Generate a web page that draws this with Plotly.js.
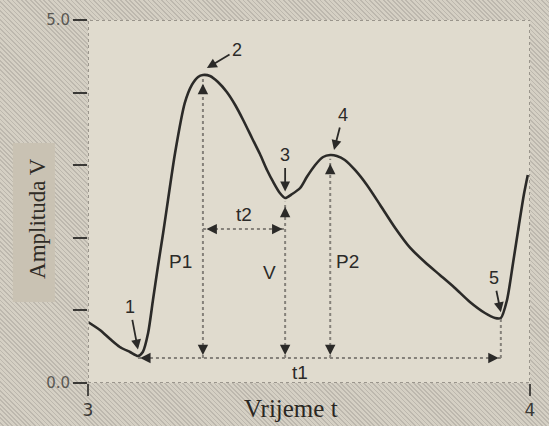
<!DOCTYPE html>
<html>
<head>
<meta charset="utf-8">
<script src="https://cdn.plot.ly/plotly-3.0.1.min.js"></script>
<style>
  html, body { margin: 0; padding: 0; }
  body {
    width: 549px; height: 426px; overflow: hidden;
    background: repeating-linear-gradient(45deg, #d5d0c4 0px, #d5d0c4 2px, #bdb8ae 2px, #bdb8ae 3.2px);
  }
  #chart { width: 549px; height: 426px; }
</style>
</head>
<body>
<div id="chart"></div>
<script>
// Pulse waveform (time in s, amplitude in V)
const time = [3.000, 3.027, 3.050, 3.072, 3.095, 3.113, 3.124, 3.136, 3.147, 3.158, 3.170, 3.181, 3.197, 3.219, 3.235, 3.249, 3.260, 3.276, 3.294, 3.314, 3.333, 3.351, 3.371, 3.389, 3.405, 3.419, 3.434, 3.446, 3.462, 3.480, 3.495, 3.514, 3.532, 3.548, 3.563, 3.581, 3.604, 3.631, 3.661, 3.695, 3.729, 3.762, 3.796, 3.830, 3.864, 3.898, 3.921, 3.934, 3.948, 3.962, 3.975, 3.986, 3.995];
const amplitude = [0.840, 0.730, 0.606, 0.496, 0.427, 0.372, 0.427, 0.689, 1.143, 1.598, 2.066, 2.521, 3.168, 3.857, 4.105, 4.215, 4.242, 4.229, 4.146, 4.008, 3.829, 3.623, 3.375, 3.154, 2.934, 2.769, 2.617, 2.548, 2.603, 2.686, 2.837, 3.003, 3.113, 3.140, 3.127, 3.072, 2.934, 2.727, 2.452, 2.135, 1.860, 1.667, 1.488, 1.309, 1.116, 0.964, 0.895, 0.895, 1.143, 1.667, 2.176, 2.590, 2.865];

// Characteristic points 1..5
const pointLabels = ["1", "2", "3", "4", "5"];
const pointT = [3.113, 3.260, 3.446, 3.548, 3.934];
const pointV = [0.372, 4.242, 2.548, 3.140, 0.895];
const baselineV = 0.345;   // level of the t1 interval
const t2Level = 2.12;      // level of the t2 interval

const yTickVals = [0, 1, 2, 3, 4, 5];
const yTickText = ["0.0", "", "", "", "", "5.0"];
const xTickVals = [3, 4];
const xTickText = ["3", "4"];

const dotGrey = "#85817a";
const ink = "#2b2a28";
const shapes = [];
const annotations = [];

// plot frame (dotted)
shapes.push({type: "rect", xref: "x", yref: "y", x0: 3, x1: 4, y0: 0, y1: 5,
  line: {color: "#9a958c", width: 2, dash: "dot"}, layer: "above"});
// plain box behind y title
shapes.push({type: "rect", xref: "paper", yref: "paper", x0: -0.170, x1: -0.075, y0: 0.223, y1: 0.661,
  fillcolor: "#c9c2b3", line: {width: 0}, layer: "below"});

// vertical lines from P1 (point 2), V (point 3), P2 (point 4), point 5 to baseline
[1, 2, 3, 4].forEach(i => {
  shapes.push({type: "line", xref: "x", yref: "y", x0: pointT[i], x1: pointT[i],
    y0: baselineV, y1: pointV[i] - (i === 4 ? 0 : 0.05), line: {color: dotGrey, width: 2, dash: "dot"}});
});
// t1 baseline
shapes.push({type: "line", xref: "x", yref: "y", x0: pointT[0], x1: pointT[4], y0: baselineV, y1: baselineV,
  line: {color: dotGrey, width: 2, dash: "dot"}});
// t2
shapes.push({type: "line", xref: "x", yref: "y", x0: pointT[1], x1: pointT[2], y0: t2Level, y1: t2Level,
  line: {color: dotGrey, width: 2, dash: "dot"}});

function head(x, y, ax, ay) {
  annotations.push({x: x, y: y, xref: "x", yref: "y", ax: ax, ay: ay, text: "",
    showarrow: true, arrowhead: 2, arrowsize: 1.3, arrowwidth: 1.6, arrowcolor: ink});
}
// arrowheads on vertical lines
[1, 2, 3].forEach(i => {
  head(pointT[i], pointV[i] - 0.12, 0, 9);
  head(pointT[i], baselineV + 0.04, 0, -9);
});
// t1 ends
head(pointT[0] + 0.005, baselineV, 10, 0);
head(pointT[4] - 0.005, baselineV, -10, 0);
// t2 ends
head(pointT[1] + 0.008, t2Level, 10, 0);
head(pointT[2] - 0.006, t2Level, -10, 0);

// numbered point labels with arrows
const labelOffsets = [[-8, -42], [30, -18], [0, -36], [9, -35], [-7, -34]];
const tipOffsets = [[0, 0.09], [0.009, 0.097], [0, 0.09], [0.0086, 0.07], [0, 0.08]];
pointLabels.forEach((lab, i) => {
  annotations.push({x: pointT[i] + tipOffsets[i][0], y: pointV[i] + tipOffsets[i][1], xref: "x", yref: "y",
    ax: labelOffsets[i][0], ay: labelOffsets[i][1], text: lab,
    font: {family: "Liberation Sans, Arial, sans-serif", size: 18, color: ink},
    showarrow: true, arrowhead: 2, arrowsize: 1.1, arrowwidth: 1.8, arrowcolor: ink, standoff: 0, startstandoff: 1});
});

// interval labels
function label(txt, x, y) {
  annotations.push({x: x, y: y, xref: "x", yref: "y", text: txt, showarrow: false,
    font: {family: "Liberation Sans, Arial, sans-serif", size: 19, color: ink}});
}
label("P1", pointT[1] - 0.05, 1.67);
label("V", pointT[2] - 0.035, 1.52);
label("P2", pointT[3] + 0.04, 1.67);
label("t2", (pointT[1] + pointT[2]) / 2, 2.32);
label("t1", 3.48, 0.15);

// axis titles
annotations.push({xref: "paper", yref: "paper", x: 0.459, y: -0.071, xanchor: "center", yanchor: "middle", text: "Vrijeme t",
  showarrow: false, font: {family: "Liberation Serif, Times New Roman, serif", size: 25, color: "#2a2722"}});
annotations.push({xref: "paper", yref: "paper", x: -0.113, y: 0.452, xanchor: "center", yanchor: "middle", textangle: -90, text: "Amplituda V",
  showarrow: false, font: {family: "Liberation Serif, Times New Roman, serif", size: 23, color: "#2f2b25"}});

const trace = {
  x: time, y: amplitude, type: "scatter", mode: "lines",
  line: {color: ink, width: 2.6, shape: "spline", smoothing: 0.7},
  hoverinfo: "skip"
};

const layout = {
  width: 549, height: 426,
  margin: {l: 88, r: 19, t: 20, b: 43},
  paper_bgcolor: "rgba(0,0,0,0)",
  plot_bgcolor: "#e0dbce",
  showlegend: false,
  xaxis: {range: [3, 4], tickvals: xTickVals, ticktext: xTickText, ticks: "outside", ticklen: 12,
    tickwidth: 2, tickcolor: "#4a4844", showgrid: false, zeroline: false, showline: false,
    tickfont: {family: "DejaVu Sans, sans-serif", size: 17, color: "#3a3936"}},
  yaxis: {range: [0, 5], tickvals: yTickVals, ticktext: yTickText, ticks: "outside", ticklen: 14,
    tickwidth: 2, tickcolor: "#3a3936", showgrid: false, zeroline: false, showline: false,
    tickfont: {family: "DejaVu Sans, sans-serif", size: 15, color: "#5a5853"}},
  shapes: shapes,
  annotations: annotations
};

Plotly.newPlot("chart", [trace], layout, {displayModeBar: false, staticPlot: true});
</script>
</body>
</html>
